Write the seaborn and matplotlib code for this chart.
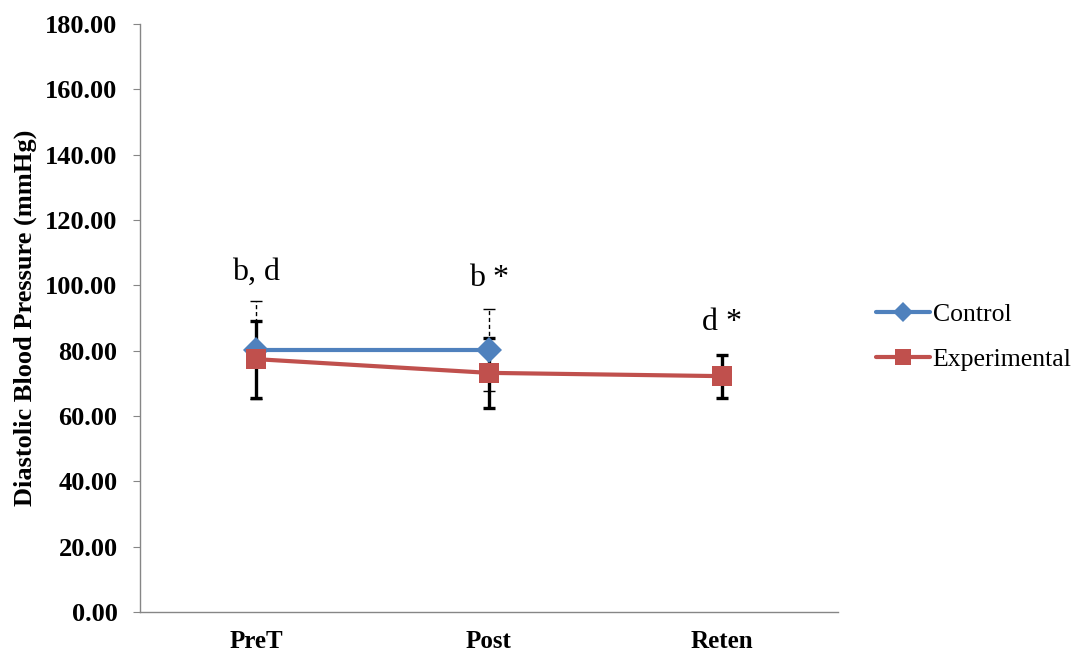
import numpy as np
import pandas as pd
import matplotlib
matplotlib.use("Agg")
import matplotlib.pyplot as plt
import seaborn as sns
from matplotlib.ticker import FormatStrFormatter

# data
phases = ["PreT", "Post", "Reten"]
control_mean = [80.2, 80.2]
control_sd = [15.0, 12.5]
exp_mean = [77.4, 73.2, 72.2]
exp_sd = [11.8, 10.8, 6.6]
labels = ["b, d", "b *", "d *"]
label_y = [104.0, 102.0, 88.5]

df = pd.DataFrame({
    "phase": phases[:2] + phases,
    "value": control_mean + exp_mean,
    "group": ["Control"] * 2 + ["Experimental"] * 3,
})
df["x"] = df["phase"].map({p: i for i, p in enumerate(phases)})

blue = "#4F81BD"
red = "#C0504D"
axis_grey = "#868686"

sns.set_style("white")
plt.rcParams["font.family"] = ["Liberation Serif", "DejaVu Serif"]
plt.rcParams["text.color"] = "black"
plt.rcParams["axes.labelcolor"] = "black"

fig = plt.figure(figsize=(10.84, 6.57), dpi=100)
ax = fig.add_axes([0.129, 0.0685, 0.644, 0.895])

# error bars behind the lines
eb = ax.errorbar(range(2), control_mean, yerr=control_sd, fmt="none", ecolor="black",
                 elinewidth=1.0, capsize=4.3, capthick=1.0, zorder=1)
eb[2][0].set_linestyle((0, (3, 2)))
ax.errorbar(range(3), exp_mean, yerr=exp_sd, fmt="none", ecolor="black",
            elinewidth=2.4, capsize=4.3, capthick=2.4, zorder=1)

sns.lineplot(data=df[df.group == "Control"], x="x", y="value", ax=ax, color=blue,
             marker="D", markersize=13, markeredgewidth=0, linewidth=3, zorder=3,
             label="Control", legend=False)
sns.lineplot(data=df[df.group == "Experimental"], x="x", y="value", ax=ax, color=red,
             marker="s", markersize=14.5, markeredgewidth=0, linewidth=3, zorder=4,
             label="Experimental", legend=False)

for i, (t, y) in enumerate(zip(labels, label_y)):
    ax.text(i, y, t, ha="center", va="center", fontsize=23, color="black")

ax.set_xlim(-0.5, 2.5)
ax.set_ylim(0, 180)
ax.set_yticks(np.arange(0, 181, 20))
ax.yaxis.set_major_formatter(FormatStrFormatter("%.2f"))
ax.set_xticks(range(3))
ax.set_xticklabels(phases)
ax.set_xticks([-0.5, 0.5, 1.5, 2.5], minor=True)
ax.tick_params(axis="x", which="major", length=0, pad=13, labelcolor="black")
ax.tick_params(axis="x", which="minor", length=5, color=axis_grey, direction="out")
ax.tick_params(axis="y", length=5, color=axis_grey, direction="out", left=True,
               pad=11, labelcolor="black")
for lab in ax.get_xticklabels():
    lab.set_fontweight("bold")
    lab.set_fontsize(18)
for lab in ax.get_yticklabels():
    lab.set_fontweight("bold")
    lab.set_fontsize(19)
ax.set_xlabel("")
ax.set_ylabel("Diastolic Blood Pressure (mmHg)", fontsize=19, fontweight="bold", labelpad=6)
sns.despine(ax=ax)
for s in ["left", "bottom"]:
    ax.spines[s].set_color(axis_grey)
    ax.spines[s].set_linewidth(1)
ax.grid(False)

handles, lbls = ax.get_legend_handles_labels()
fig.legend(handles, lbls, loc="center left", bbox_to_anchor=(0.787, 0.487), frameon=False,
           fontsize=18.5, handlelength=2.1, handletextpad=0.1, labelspacing=0.85,
           markerscale=0.8)

fig.savefig("out.png", dpi=100)
